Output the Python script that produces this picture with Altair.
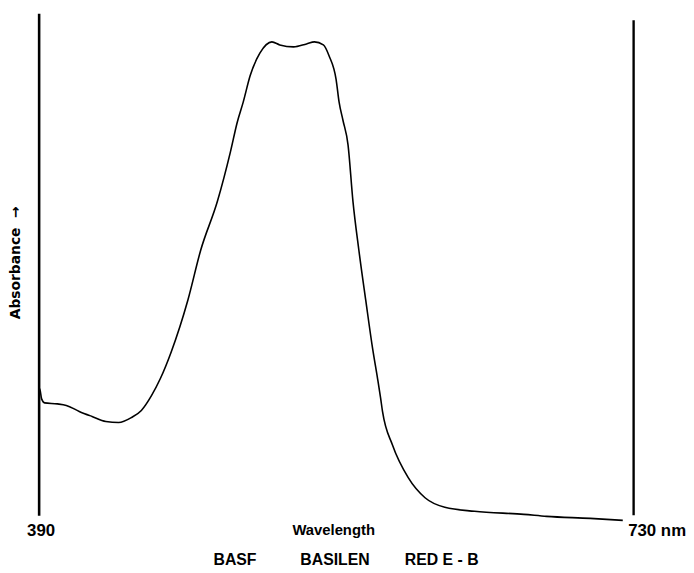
import altair as alt
import pandas as pd

# Wavelength (nm) and relative absorbance
wavelength = [390.0, 390.6, 391.7, 393.4, 400.7, 405.8, 413.2, 420.5, 428.4, 435.7,
              443.1, 448.7, 454.4, 459.5, 465.7, 475.3, 482.6, 492.2, 499.6, 503.5,
              506.9, 510.9, 516.5, 523.3, 527.8, 535.7, 543.1, 547.6, 552.7, 556.0,
              560.0, 561.7, 563.9, 566.8, 569.6, 573.0, 576.9, 580.9, 583.7, 585.4,
              586.5, 592.2, 601.2, 610.8, 622.1, 639.1, 667.3, 680.3, 705.2, 723.8]
absorbance = [0.250, 0.252, 0.232, 0.224, 0.222, 0.219, 0.207, 0.197, 0.187, 0.185,
              0.195, 0.209, 0.238, 0.272, 0.325, 0.429, 0.528, 0.626, 0.724, 0.783,
              0.823, 0.876, 0.921, 0.943, 0.937, 0.933, 0.939, 0.943, 0.937, 0.915,
              0.868, 0.823, 0.787, 0.738, 0.626, 0.528, 0.429, 0.331, 0.272, 0.234,
              0.207, 0.140, 0.075, 0.035, 0.016, 0.008, 0.002, -0.002, -0.006, -0.010]

x_ticks = [390, 730]
right_edge = [730]

df = pd.DataFrame({"nm": wavelength, "A": absorbance})
edge = pd.DataFrame({"nm": right_edge})

FONT = "Liberation Sans, Arial, sans-serif"
YFONT = "DejaVu Sans, Liberation Sans, sans-serif"
NB = "\u00a0"

x_scale = alt.Scale(domain=[390, 730], nice=False, zero=False)
y_scale = alt.Scale(domain=[0, 1], nice=False, zero=False)

curve = alt.Chart(df).mark_line(
    color="black", strokeWidth=1.6, interpolate="monotone"
).encode(
    x=alt.X("nm:Q", scale=x_scale, axis=alt.Axis(
        values=x_ticks, domain=False, ticks=False, grid=False,
        labelExpr="datum.value == 730 ? '730 nm' : datum.label",
        labelAlign={"condition": {"test": "datum.value == 730", "value": "left"}, "value": "center"},
        labelOffset={"condition": {"test": "datum.value == 730", "value": -6}, "value": 2},
        labelBaseline="alphabetic", labelPadding=20,
        labelFont=FONT, labelFontSize=17, labelFontWeight="bold", labelColor="black",
        title="Wavelength", titleFont=FONT, titleFontSize=15, titleFontWeight="bold",
        titleColor="black", titleBaseline="alphabetic", titleY=19, titleX=298,
    )),
    y=alt.Y("A:Q", scale=y_scale, axis=alt.Axis(
        domain=True, domainColor="black", domainWidth=2.6, ticks=False, labels=False,
        grid=False,
        title="Absorbance" + NB * 2 + "\u2192", titleFont=YFONT, titleFontSize=14,
        titleFontWeight="bold", titleColor="black", titleAngle=-90,
        titleAlign="center", titleBaseline="alphabetic", titleX=-19, titleY=252,
    )),
)

right_line = alt.Chart(edge).mark_rule(color="black", strokeWidth=2.4).encode(
    x=alt.X("nm:Q", scale=x_scale),
    y=alt.value(7),
    y2=alt.value(508),
)

caption = "BASF" + NB * 10 + "BASILEN" + NB * 8 + "RED" + NB + "E" + NB + "-" + NB + "B"

chart = alt.layer(curve, right_line).properties(
    width=602,
    height=508,
    autosize=alt.AutoSizeParams(type="none"),
    padding={"left": 31, "top": 2, "right": 53, "bottom": 55},
    title=alt.TitleParams(
        caption,
        orient="bottom", anchor="middle", dx=10, offset=14,
        font=FONT, fontSize=16, fontWeight="bold", color="black",
    ),
).configure_view(stroke=None)

chart.save("out.html", embed_options={"renderer": "svg", "actions": False})
